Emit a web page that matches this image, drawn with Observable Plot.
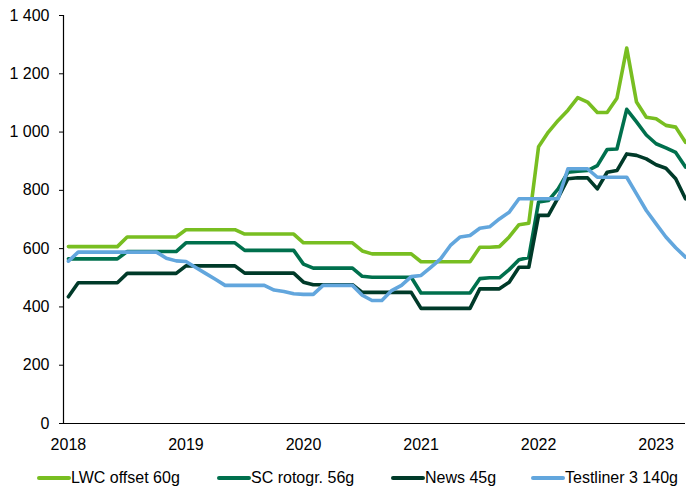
<!DOCTYPE html>
<html>
<head>
<meta charset="utf-8">
<script src="https://cdn.jsdelivr.net/npm/d3@7"></script>
<script src="https://cdn.jsdelivr.net/npm/@observablehq/plot@0.6"></script>
<style>
  body { margin: 0; background: #fff; font-family: Arial, "Liberation Sans", sans-serif; }
  #chart { position: relative; width: 686px; height: 491px; }
  #chart svg { display: block; }
  .legend { position: absolute; top: 458px; left: 0; width: 686px; height: 40px; }
  .item { position: absolute; top: 0; height: 40px; display: flex; align-items: center; font-size: 16px; color: #000; white-space: nowrap; }
  .sw { width: 34px; height: 4px; border-radius: 2px; }
</style>
</head>
<body>
<div id="chart"></div>
<script>
// Monthly prices, Jan 2018 – Apr 2023 (one value per month)
const series = ["LWC offset 60g", "SC rotogr. 56g", "News 45g", "Testliner 3 140g"];
const colors = ["#78be21", "#00704d", "#003a29", "#62a6dd"];

const lwc = [
  607, 607, 607, 607, 607, 607, 640, 640, 640, 640, 640, 640,
  665, 665, 665, 665, 665, 665, 650, 650, 650, 650, 650, 650,
  620, 620, 620, 620, 620, 620, 592, 582, 582, 582, 582, 582,
  555, 555, 555, 555, 555, 555, 605, 605, 607, 640, 682, 687,
  950, 1000, 1040, 1075, 1118, 1103, 1067, 1067, 1116, 1288, 1103, 1051,
  1046, 1023, 1017, 965
];
const sc = [
  565, 565, 565, 565, 565, 565, 590, 590, 590, 590, 590, 590,
  620, 620, 620, 620, 620, 620, 594, 594, 594, 594, 594, 594,
  547, 533, 533, 533, 533, 533, 505, 502, 502, 502, 502, 502,
  448, 448, 448, 448, 448, 448, 497, 500, 500, 528, 562, 570,
  760, 765, 805, 862, 866, 868, 885, 940, 942, 1078, 1035, 990,
  960, 946, 930, 880
];
const news = [
  435, 483, 483, 483, 483, 483, 515, 515, 515, 515, 515, 515,
  541, 541, 541, 541, 541, 541, 516, 516, 516, 516, 516, 516,
  485, 476, 476, 476, 476, 476, 450, 450, 450, 450, 450, 450,
  395, 395, 395, 395, 395, 395, 462, 462, 462, 485, 536, 536,
  714, 714, 775, 840, 843, 843, 805, 862, 868, 925, 920, 908,
  888, 876, 840, 771
];
const testliner = [
  557, 588, 588, 588, 588, 588, 588, 588, 588, 588, 567, 558,
  556, 535, 515, 495, 474, 474, 474, 474, 474, 458, 453, 445,
  443, 443, 474, 474, 474, 474, 440, 422, 422, 456, 474, 504,
  508, 536, 565, 611, 640, 645, 670, 675, 702, 725, 771, 771,
  771, 771, 771, 874, 874, 874, 845, 845, 845, 845, 788, 731,
  685, 640, 603, 571
];

const years = ["2018", "2019", "2020", "2021", "2022", "2023"];
const yearTicks = [0, 12, 24, 36, 48, 60];          // month index of each January
const yTicks = [0, 200, 400, 600, 800, 1000, 1200, 1400];

const values = [lwc, sc, news, testliner];
const rows = series.flatMap((s, k) => values[k].map((v, i) => ({ i, v, s })));

const fmt = d3.formatLocale({ decimal: ",", thousands: " ", grouping: [3], currency: ["", ""] }).format(",");

const chart = Plot.plot({
  width: 686,
  height: 458,
  marginLeft: 63,
  marginRight: 1,
  marginTop: 15,
  marginBottom: 35,
  style: { fontFamily: "Arial, 'Liberation Sans', sans-serif", fontSize: "16px", color: "#000", background: "#fff" },
  x: { domain: [-0.5, 63], ticks: yearTicks, tickFormat: (d) => years[d / 12], tickSize: 0, tickPadding: 15, label: null },
  y: { domain: [0, 1400], ticks: yTicks, tickFormat: fmt, tickSize: 4, tickPadding: 10, label: null },
  color: { domain: series, range: colors },
  marks: [
    Plot.ruleY([0], { stroke: "#000", strokeWidth: 1.2 }),
    Plot.ruleX([-0.5], { stroke: "#000", strokeWidth: 1.2 }),
    Plot.lineY(rows, {
      x: "i", y: "v", z: "s", stroke: "s",
      strokeWidth: 3.6, strokeLinejoin: "round", strokeLinecap: "round"
    })
  ]
});

const root = document.getElementById("chart");
root.appendChild(chart);

// Legend below the plot
const legend = document.createElement("div");
legend.className = "legend";
const lefts = [37, 217, 391, 531];
series.forEach((name, k) => {
  const item = document.createElement("div");
  item.className = "item";
  item.style.left = lefts[k] + "px";
  const sw = document.createElement("span");
  sw.className = "sw";
  sw.style.background = colors[k];
  const label = document.createElement("span");
  label.textContent = name;
  item.appendChild(sw);
  item.appendChild(label);
  legend.appendChild(item);
});
root.appendChild(legend);
</script>
</body>
</html>
